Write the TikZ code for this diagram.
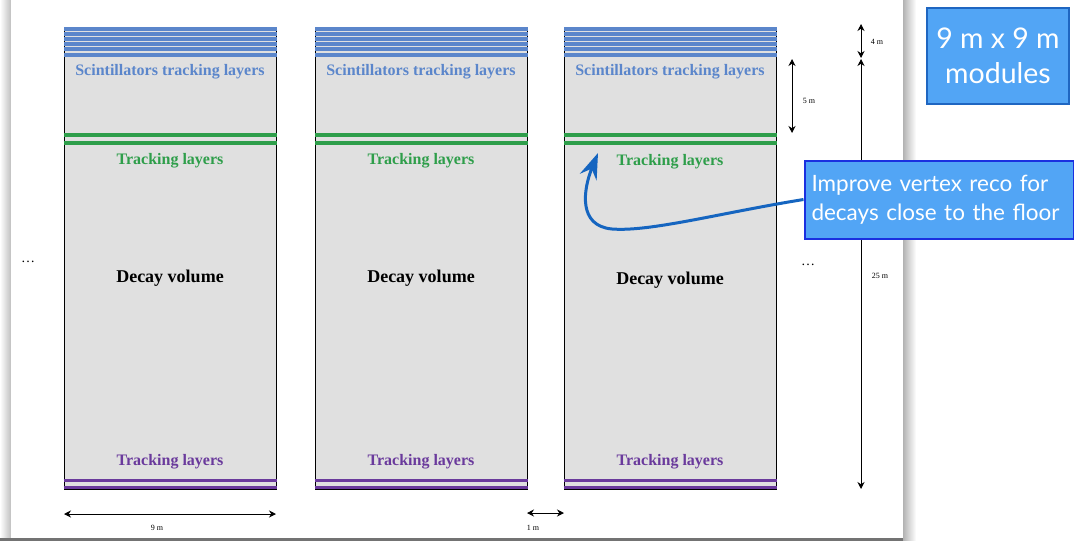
\documentclass[tikz,border=0pt]{standalone}
\usepackage{fontspec}
\setmainfont{Liberation Serif}
\newfontfamily\calloutfont{Lato}
\usetikzlibrary{arrows.meta}

\definecolor{modgray}{HTML}{E0E0E0}
\definecolor{scintblue}{HTML}{5B86CB}
\definecolor{trkgreen}{HTML}{2E9E4A}
\definecolor{trkpurple}{HTML}{6A3A9C}
\definecolor{calloutfill}{HTML}{52A5F5}
\definecolor{calloutedge}{HTML}{1F66C1}
\definecolor{calloutedgeb}{HTML}{1A30E0}
\definecolor{curvblue}{HTML}{1565C0}

\tikzset{
  module/.style={draw=black, line width=0.9pt, fill=modgray, minimum width=212pt,
                 minimum height=462pt, inner sep=0pt, anchor=north west},
  scintlabel/.style={text=scintblue, font=\bfseries\fontsize{16}{18}\selectfont},
  greenlabel/.style={text=trkgreen, font=\bfseries\fontsize{16}{18}\selectfont},
  purplelabel/.style={text=trkpurple, font=\bfseries\fontsize{16}{18}\selectfont},
  decaylabel/.style={text=black, font=\bfseries\fontsize{18}{20}\selectfont},
  greenline/.style={draw=trkgreen, line width=3.5pt},
  purpleline/.style={draw=trkpurple, line width=3pt},
  dimarrow/.style={{Stealth[length=7pt,width=7pt]}-{Stealth[length=7pt,width=7pt]}, line width=1pt},
  dimlabel/.style={font=\fontsize{8}{9}\selectfont, inner sep=1pt},
  callout/.style={fill=calloutfill, line width=2pt, text=white, inner sep=3pt,
                  font=\calloutfont},
  dots/.style={font=\fontsize{14}{14}\selectfont}
}

\begin{document}
\begin{tikzpicture}[x=1pt, y=-1pt]
\useasboundingbox (0,0) rectangle (1074,541);

% sheet with its soft shadow
\shade[left color=white, right color=black!25] (0,0) rectangle (11,538);
\shade[left color=black!30, right color=white] (903,0) rectangle (916,541);
\fill[black!55] (0,537.5) rectangle (903,541);
\fill[white] (11,0) rectangle (903,537.5);

% three detector modules
\foreach \n/\x/\dy in {m1/64/0, m2/315/0, m3/564/1.5}{
  \node[module] (\n) at (\x,27) {};
  % scintillator planes on top
  \foreach \k in {0,...,5}{
    \fill[scintblue] (\x-0.5,27+\k*5.1) rectangle (\x+212.5,31+\k*5.1);
  }
  % tracking planes under the scintillators and at the floor
  \draw[greenline] (\x-0.5,135) -- (\x+212.5,135);
  \draw[greenline] (\x-0.5,143) -- (\x+212.5,143);
  \draw[purpleline] (\x-0.5,480) -- (\x+212.5,480);
  \draw[purpleline] (\x-0.5,487.5) -- (\x+212.5,487.5);
  \node[scintlabel]  (\n-scint) at (\x+106,71.5)  {Scintillators tracking layers};
  \node[greenlabel]  (\n-top)   at (\x+106,160.5+\dy) {Tracking layers};
  \node[decaylabel]  (\n-decay) at (\x+106,278.5+\dy) {Decay volume};
  \node[purplelabel] (\n-bot)   at (\x+106,461.5) {Tracking layers};
}

% repetition marks
\node[dots] (dl) at (28,262) {\dots};
\node[dots] (dr) at (808,265) {\dots};

% dimensions
\coordinate (w1) at (64,514);
\coordinate (w2) at (276,514);
\draw[dimarrow] (w1) -- (w2);
\node[dimlabel] (w-lab) at (157,528) {9 m};

\coordinate (g1) at (527,513);
\coordinate (g2) at (564,513);
\draw[dimarrow] (g1) -- (g2);
\node[dimlabel] (g-lab) at (533,528) {1 m};

\coordinate (f1) at (792,59);
\coordinate (f2) at (792,133);
\draw[dimarrow] (f1) -- (f2);
\node[dimlabel] (f-lab) at (809,101) {5 m};

\coordinate (c1) at (861,24);
\coordinate (c2) at (861,58);
\draw[dimarrow] (c1) -- (c2);
\node[dimlabel] (c-lab) at (877,42) {4 m};

\coordinate (h1) at (861,59);
\coordinate (h2) at (861,489);
\draw[dimarrow] (h1) -- (h2);
\node[dimlabel] (h-lab) at (880,276) {25 m};

% call-out boxes
\node[callout, draw=calloutedge, minimum width=142pt, minimum height=96pt,
      align=center, font=\calloutfont\fontsize{28.5}{35}\selectfont] (mods) at (998,56)
      {9 m x 9 m\\modules};
\node[callout, draw=calloutedgeb, minimum width=269pt, minimum height=78pt,
      text width=255pt, inner xsep=7pt, align=left, anchor=north west,
      font=\calloutfont\fontsize{22.5}{29}\selectfont] (vtx) at (803.5,159.5)
      {Improve vertex reco for\\decays close to the floor};

% arrow from the call-out towards the lower tracking planes
\draw[curvblue, line width=3pt, -{Stealth[length=26pt,width=18pt,inset=9pt]}]
  (vtx.west) .. controls (720,213) and (650,232) .. (612,229)
  .. controls (578,226) and (583,190) .. (598,153);
\end{tikzpicture}
\end{document}
